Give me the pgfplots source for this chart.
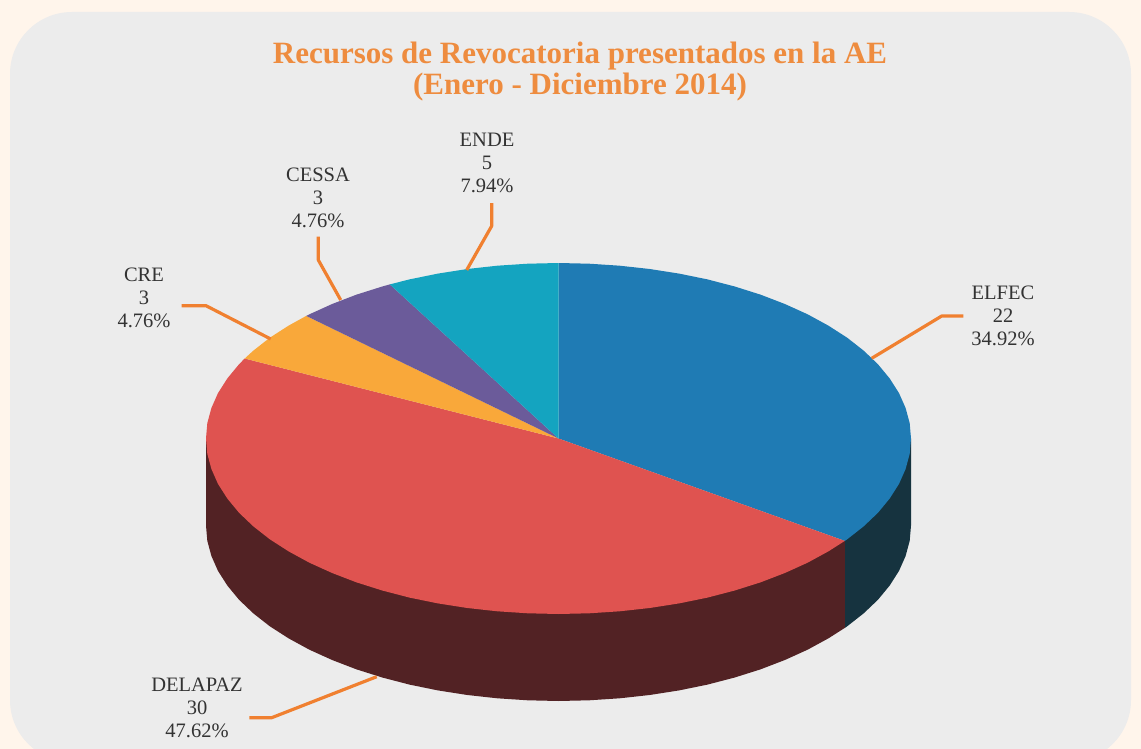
\documentclass[border=0pt]{standalone}
\usepackage{fontspec}
\setmainfont{Liberation Serif}
\usepackage{pgfplots}
\pgfplotsset{compat=1.18}
\definecolor{pagebg}{HTML}{FFF5EB}
\definecolor{panel}{HTML}{ECECEC}
\definecolor{elfec}{HTML}{1F7BB4}
\definecolor{delapaz}{HTML}{DF5350}
\definecolor{cre}{HTML}{F9A83A}
\definecolor{cessa}{HTML}{6B5B9A}
\definecolor{ende}{HTML}{14A4C0}
\definecolor{elfecside}{HTML}{16333F}
\definecolor{delapazside}{HTML}{522224}
\definecolor{leader}{HTML}{F08030}
\definecolor{titlecol}{HTML}{EE8C3F}
\definecolor{labelcol}{HTML}{333333}
\tikzset{
  leaderline/.style={draw=leader, line width=3.2pt, line join=round},
  lab/.style={font=\fontsize{20.5}{22.7}\selectfont, text=labelcol, align=center, inner sep=0pt},
}
\begin{document}
\begin{tikzpicture}
\begin{axis}[
  scale only axis,
  width=1141pt, height=749pt,
  xmin=0, xmax=1141, ymin=0, ymax=749,
  y dir=reverse,
  hide axis,
  axis background/.style={fill=pagebg},
  no markers,
  every axis plot/.append style={draw=none},
]
  % panel
  \fill[panel, rounded corners=62pt] (axis cs:10,12) rectangle (axis cs:1131,762);

  % side walls, the top faces cover their upper part
  \addplot[fill=elfecside] coordinates {
    (911,438.5)(911,525.5)(909.7,540.8)(905.6,556)(899,570.9)(889.7,585.5)
    (878,599.7)(863.8,613.25)(847.3,626.2)(844.8,627.9)(844.8,540.9)};
  \addplot[fill=delapazside] coordinates {
    (844.8,540.9)(844.8,627.9)(828.5,638.3)(807.8,649.6)(785.1,659.9)(760.7,669.3)
    (734.75,677.5)(707.5,684.6)(679.1,690.4)(649.7,695)(619.7,698.3)(589.2,700.3)
    (558.5,701)(527.8,700.3)(497.3,698.3)(467.3,695)(437.9,690.4)(409.5,684.6)
    (382.25,677.5)(356.3,669.3)(331.9,659.9)(309.2,649.6)(288.5,638.3)(269.7,626.2)
    (253.2,613.25)(239,599.7)(227.3,585.5)(218,570.9)(211.4,556)(207.3,540.8)
    (206,525.5)(206,438.5)};

  % top faces
  \addplot[fill=elfec] coordinates {
    (558.5,438.5)(558.5,263)(589.2,263.7)(619.7,265.7)(649.7,269)(679.1,273.6)
    (707.5,279.4)(734.75,286.5)(760.7,294.7)(785.1,304.1)(807.8,314.4)(828.5,325.7)
    (847.3,337.8)(863.8,350.75)(878,364.3)(889.7,378.5)(899,393.1)(905.6,408)
    (909.7,423.2)(911,438.5)(909.7,453.8)(905.6,469)(899,483.9)(889.7,498.5)
    (878,512.7)(863.8,526.25)(847.3,539.2)(844.8,540.9)};
  \addplot[fill=delapaz] coordinates {
    (558.5,438.5)(844.8,540.9)(828.5,551.3)(807.8,562.6)(785.1,572.9)(760.7,582.3)
    (734.75,590.5)(707.5,597.6)(679.1,603.4)(649.7,608)(619.7,611.3)(589.2,613.3)
    (558.5,614)(527.8,613.3)(497.3,611.3)(467.3,608)(437.9,603.4)(409.5,597.6)
    (382.25,590.5)(356.3,582.3)(331.9,572.9)(309.2,562.6)(288.5,551.3)(269.7,539.2)
    (253.2,526.25)(239,512.7)(227.3,498.5)(218,483.9)(211.4,469)(207.3,453.8)
    (206,438.5)(207.3,423.2)(211.4,408)(218,393.1)(227.3,378.5)(239,364.3)(244.7,358.5)};
  \addplot[fill=cre] coordinates {
    (558.5,438.5)(244.7,358.5)(253.2,350.75)(269.7,337.8)(288.5,325.7)(306.2,315.9)};
  \addplot[fill=cessa] coordinates {
    (558.5,438.5)(306.2,315.9)(309.2,314.4)(331.9,304.1)(356.3,294.7)(382.25,286.5)(389.8,284.4)};
  \addplot[fill=ende] coordinates {
    (558.5,438.5)(389.8,284.4)(409.5,279.4)(437.9,273.6)(467.3,269)(497.3,265.7)
    (527.8,263.7)(558.5,263)};

  % leader lines
  \addplot[leaderline] coordinates {(871.7,358.3)(941.7,316)(963.3,316)};
  \addplot[leaderline] coordinates {(376.7,676.7)(271.7,717.7)(249.3,717.7)};
  \addplot[leaderline] coordinates {(270.7,339)(206,305.7)(181.7,305.7)};
  \addplot[leaderline] coordinates {(340.7,300)(318.3,260)(318.3,236.7)};
  \addplot[leaderline] coordinates {(466.7,270)(491.7,226)(491.7,203)};

  % title
  \node[font=\fontsize{31}{31}\selectfont\bfseries, text=titlecol, align=center, inner sep=0pt]
    at (axis cs:580,72) {Recursos de Revocatoria presentados en la AE\\(Enero - Diciembre 2014)};

  % labels
  \node[lab] at (axis cs:1003,316) {ELFEC\\22\\34.92\%};
  \node[lab] at (axis cs:197,708) {DELAPAZ\\30\\47.62\%};
  \node[lab] at (axis cs:144,298) {CRE\\3\\4.76\%};
  \node[lab] at (axis cs:318,198) {CESSA\\3\\4.76\%};
  \node[lab] at (axis cs:487,163) {ENDE\\5\\7.94\%};
\end{axis}
\end{tikzpicture}
\end{document}
